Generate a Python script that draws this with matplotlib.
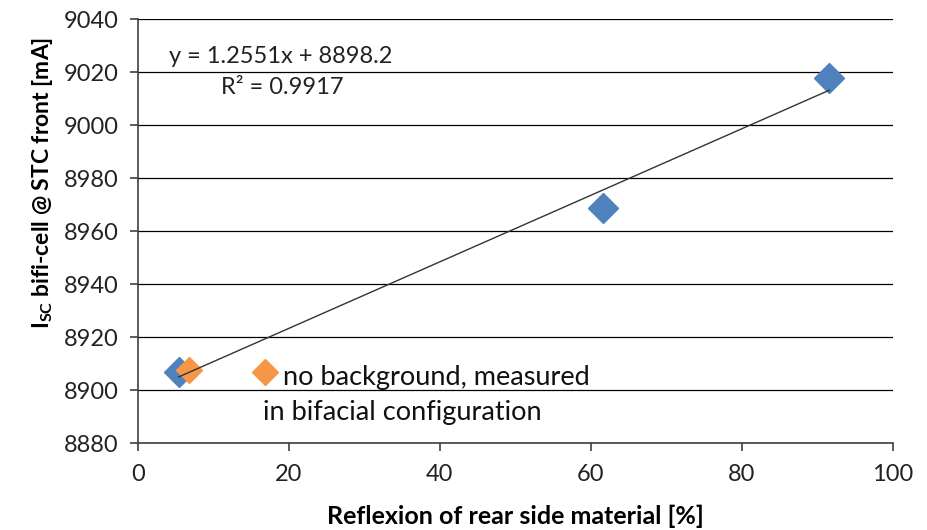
import numpy as np
import matplotlib.pyplot as plt

# Measured short-circuit current vs. reflectance of rear side material
refl_blue = [5.4, 61.6, 91.6]
isc_blue = [8906.8, 8968.8, 9017.8]

# Reference cells without background (bifacial configuration)
refl_orange = [6.7, 16.8]
isc_orange = [8907.6, 8907.0]

# Linear fit from spreadsheet
slope = 1.2551
intercept = 8898.2
r2 = 0.9917

y_ticks = [8880, 8900, 8920, 8940, 8960, 8980, 9000, 9020, 9040]
x_ticks = [0, 20, 40, 60, 80, 100]

plt.rcParams['font.family'] = ['Lato', 'DejaVu Sans']

fig = plt.figure(figsize=(9.28, 5.30), dpi=100)
ax = fig.add_axes([0.1487, 0.164, 0.8133, 0.800])

ax.set_xlim(0, 100)
ax.set_ylim(8880, 9040)
ax.set_xticks(x_ticks)
ax.set_yticks(y_ticks)
ax.yaxis.grid(True, color='#000000', linewidth=0.9)
ax.set_axisbelow(True)

for side in ['top', 'right']:
    ax.spines[side].set_visible(False)
ax.spines['left'].set_color('#404040')
ax.spines['bottom'].set_color('#404040')
ax.spines['left'].set_linewidth(1.2)
ax.spines['bottom'].set_linewidth(1.2)

ax.tick_params(axis='both', labelsize=17, colors='#404040', labelcolor='#222222',
               length=6, width=1.2, direction='out')
ax.tick_params(axis='y', pad=8)
ax.tick_params(axis='x', pad=9)

ax.plot(refl_blue, isc_blue, linestyle='none', marker='D', markersize=15,
        color='#4F81BD', zorder=3)
ax.plot(refl_orange, isc_orange, linestyle='none', marker='D', markersize=13,
        color='#F79646', zorder=4)

# trend line over the range of the blue data
xf = np.array([min(refl_blue), max(refl_blue)])
ax.plot(xf, slope * xf + intercept, color='#333333', linewidth=1.0, zorder=5)

ax.text(18.9, 9025.7, f'y = {slope}x + {intercept}', fontsize=17,
        ha='center', va='center', color='#222222')
ax.text(19.1, 9014, f'R² = {r2}', fontsize=17, ha='center', va='center',
        color='#222222')

ax.text(19.2, 8904.6, 'no background, measured', fontsize=19.5,
        ha='left', va='center', color='#111111')
ax.text(16.6, 8891.7, 'in bifacial configuration', fontsize=19.5,
        ha='left', va='center', color='#111111')

ax.set_xlabel('Reflexion of rear side material [%]', fontsize=18,
              fontweight='bold', va='center')
ax.xaxis.set_label_coords(0.5, -0.172)
ax.set_ylabel(r'I$_\mathregular{SC}$ bifi-cell @ STC front [mA]', fontsize=16.5,
              fontweight='bold', va='center')
ax.yaxis.set_label_coords(-0.127, 0.613)

fig.savefig('out.png', dpi=100)
